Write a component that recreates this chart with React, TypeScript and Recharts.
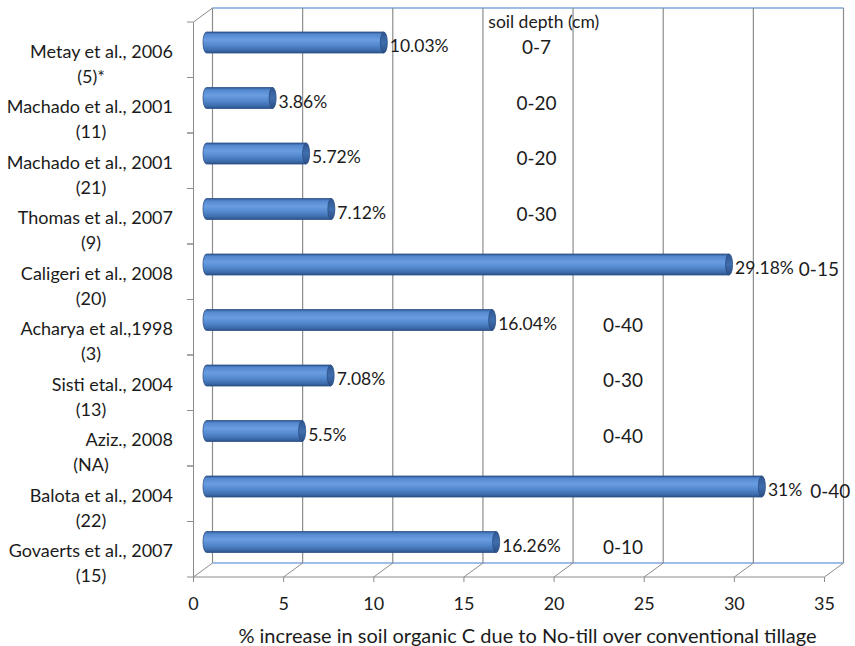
import { BarChart, Bar, XAxis, YAxis, CartesianGrid, LabelList } from 'recharts';

const studies = [
  'Metay et al., 2006',
  'Machado et al., 2001',
  'Machado et al., 2001',
  'Thomas et al., 2007',
  'Caligeri et al., 2008',
  'Acharya et al.,1998',
  'Sisti etal., 2004',
  'Aziz., 2008',
  'Balota et al., 2004',
  'Govaerts et al., 2007',
];
const refs = ['(5)*', '(11)', '(21)', '(9)', '(20)', '(3)', '(13)', '(NA)', '(22)', '(15)'];
const increase = [10.03, 3.86, 5.72, 7.12, 29.18, 16.04, 7.08, 5.5, 31, 16.26];
const valueLabels = ['10.03%', '3.86%', '5.72%', '7.12%', '29.18%', '16.04%', '7.08%', '5.5%', '31%', '16.26%'];
const soilDepth = ['0-7', '0-20', '0-20', '0-30', '0-15', '0-40', '0-30', '0-40', '0-40', '0-10'];
const xTicks = [0, 5, 10, 15, 20, 25, 30, 35];

const data = studies.map((s, i) => ({ id: `s${i}`, value: increase[i] }));

// 3d offsets: bars sit mid-depth, back wall is +DX/-DY, front is -DX/+DY
const DX = 9.5;
const DY = 7;
const FONT = 'Lato, "Open Sans", sans-serif';
const TXT = '#1b1b1b';
const GRID = '#8c8c8c';
const BLUE_EDGE = '#7fa7dc';

const YTick = (props: any) => {
  const { y, payload } = props;
  const i = Number(String(payload.value).slice(1));
  const fy = y + DY;
  const half = 27.75;
  return (
    <g>
      <line x1={187} y1={fy - half} x2={193.5} y2={fy - half} stroke={GRID} />
      <line x1={187} y1={fy + half} x2={193.5} y2={fy + half} stroke={GRID} />
      <line x1={193.5} y1={fy - half} x2={193.5} y2={fy + half} stroke={GRID} />
      <text x={173} y={fy + 1} textAnchor="end" dominantBaseline="central" fontSize={18} fill={TXT} fontFamily={FONT}>
        {studies[i]}
      </text>
      <text x={91} y={fy + 26} textAnchor="middle" dominantBaseline="central" fontSize={18} fill={TXT} fontFamily={FONT}>
        {refs[i]}
      </text>
    </g>
  );
};

const XTick = (props: any) => {
  const { x, payload } = props;
  const fx = x - DX;
  const bx = x + DX;
  const front = 570 + DY;
  const back = 570 - DY;
  return (
    <g>
      <line x1={fx} y1={front} x2={bx} y2={back} stroke={GRID} />
      <line x1={fx} y1={front} x2={fx} y2={front + 5} stroke={GRID} />
      <text x={fx} y={603} textAnchor="middle" dominantBaseline="central" fontSize={18} fill={TXT} fontFamily={FONT}>
        {payload.value}
      </text>
    </g>
  );
};

const gridVertical = (props: any) => {
  const { x1, y1, x2, y2, index } = props;
  return (
    <line key={`v${index}`} x1={x1 + DX} y1={y1 - DY} x2={x2 + DX} y2={y2 - DY} stroke={GRID} strokeWidth={1.2} />
  );
};

const gridHorizontal = (props: any) => {
  const { x1, x2, y1, index } = props;
  if (y1 < 100) {
    return (
      <g key={`h${index}`}>
        <line x1={x1 + DX} y1={y1 - DY} x2={x2 + DX} y2={y1 - DY} stroke={BLUE_EDGE} strokeWidth={1.5} />
        <line x1={x1 - DX} y1={y1 + DY} x2={x1 + DX} y2={y1 - DY} stroke={GRID} />
      </g>
    );
  }
  return (
    <g key={`h${index}`}>
      <line x1={x1 + DX} y1={y1 - DY} x2={x2 + DX} y2={y1 - DY} stroke={BLUE_EDGE} strokeWidth={1.5} />
      <line x1={x1 - DX} y1={y1 + DY} x2={x2 - DX} y2={y1 + DY} stroke={GRID} />
    </g>
  );
};

const Cylinder = (props: any) => {
  const { x, y, width, height } = props;
  const r = height / 2;
  const e = 3.5;
  const d = `M${x + e},${y} L${x + width},${y} L${x + width},${y + height} L${x + e},${y + height} A${e},${r} 0 0 1 ${x + e},${y} Z`;
  return (
    <g>
      <path d={d} fill="url(#cyl)" stroke="#2d5088" strokeWidth={0.8} />
      <ellipse cx={x + width} cy={y + r} rx={e} ry={r} fill="url(#cap)" stroke="#2a4c82" strokeWidth={0.8} />
    </g>
  );
};

const ValueLabel = (props: any) => {
  const { x, y, width, height, index } = props;
  const cy = y + height / 2;
  const ppu = width / increase[index];
  const tx = x + width + 6;
  const long = increase[index] > 20;
  const col = index < 4 ? 18.5 : 23.3;
  return (
    <g fontFamily={FONT} fill={TXT}>
      {index === 0 && (
        <text x={x + 18.9 * ppu} y={cy - 21} fontSize={17.5} textAnchor="middle" dominantBaseline="central">
          soil depth (cm)
        </text>
      )}
      <text x={tx} y={cy + 3} fontSize={17.5} dominantBaseline="central">
        {valueLabels[index]}
        {long && (
          <tspan dx={increase[index] > 30 ? 8 : 5} fontSize={19}>
            {soilDepth[index]}
          </tspan>
        )}
      </text>
      {!long && (
        <text x={x + col * ppu} y={cy + 4} fontSize={19} textAnchor="middle" dominantBaseline="central">
          {soilDepth[index]}
        </text>
      )}
    </g>
  );
};

export default function App() {
  return (
    <div style={{ position: 'absolute', left: 0, top: 0, background: '#fff' }}>
      <BarChart
        width={855}
        height={646}
        data={data}
        layout="vertical"
        margin={{ top: 15, right: 21, bottom: 0, left: 0 }}
        style={{ fontFamily: FONT }}
      >
        <defs>
          <linearGradient id="cyl" x1="0" y1="0" x2="0" y2="1">
            <stop offset="0" stopColor="#2f5a96" />
            <stop offset="0.12" stopColor="#5589d0" />
            <stop offset="0.38" stopColor="#6a9de0" />
            <stop offset="0.65" stopColor="#5287cd" />
            <stop offset="0.88" stopColor="#3c6baa" />
            <stop offset="1" stopColor="#2b5089" />
          </linearGradient>
          <linearGradient id="cap" x1="0" y1="0" x2="0" y2="1">
            <stop offset="0" stopColor="#2e5690" />
            <stop offset="0.5" stopColor="#3f6eae" />
            <stop offset="1" stopColor="#2b4f86" />
          </linearGradient>
        </defs>
        <CartesianGrid
          vertical={gridVertical}
          horizontal={gridHorizontal}
          horizontalPoints={[15, 570]}
        />
        <XAxis
          type="number"
          domain={[0, 35]}
          ticks={xTicks}
          height={76}
          axisLine={false}
          tickLine={false}
          tick={<XTick />}
          label={{
            value: '% increase in soil organic C due to No-till over conventional tillage',
            position: 'insideBottom',
            offset: 3,
            dx: 9,
            fill: TXT,
            fontSize: 20,
          }}
        />
        <YAxis type="category" dataKey="id" width={203} axisLine={false} tickLine={false} tick={<YTick />} interval={0} />
        <Bar dataKey="value" barSize={21} shape={<Cylinder />} isAnimationActive={false}>
          <LabelList dataKey="value" content={<ValueLabel />} />
        </Bar>
      </BarChart>
    </div>
  );
}
